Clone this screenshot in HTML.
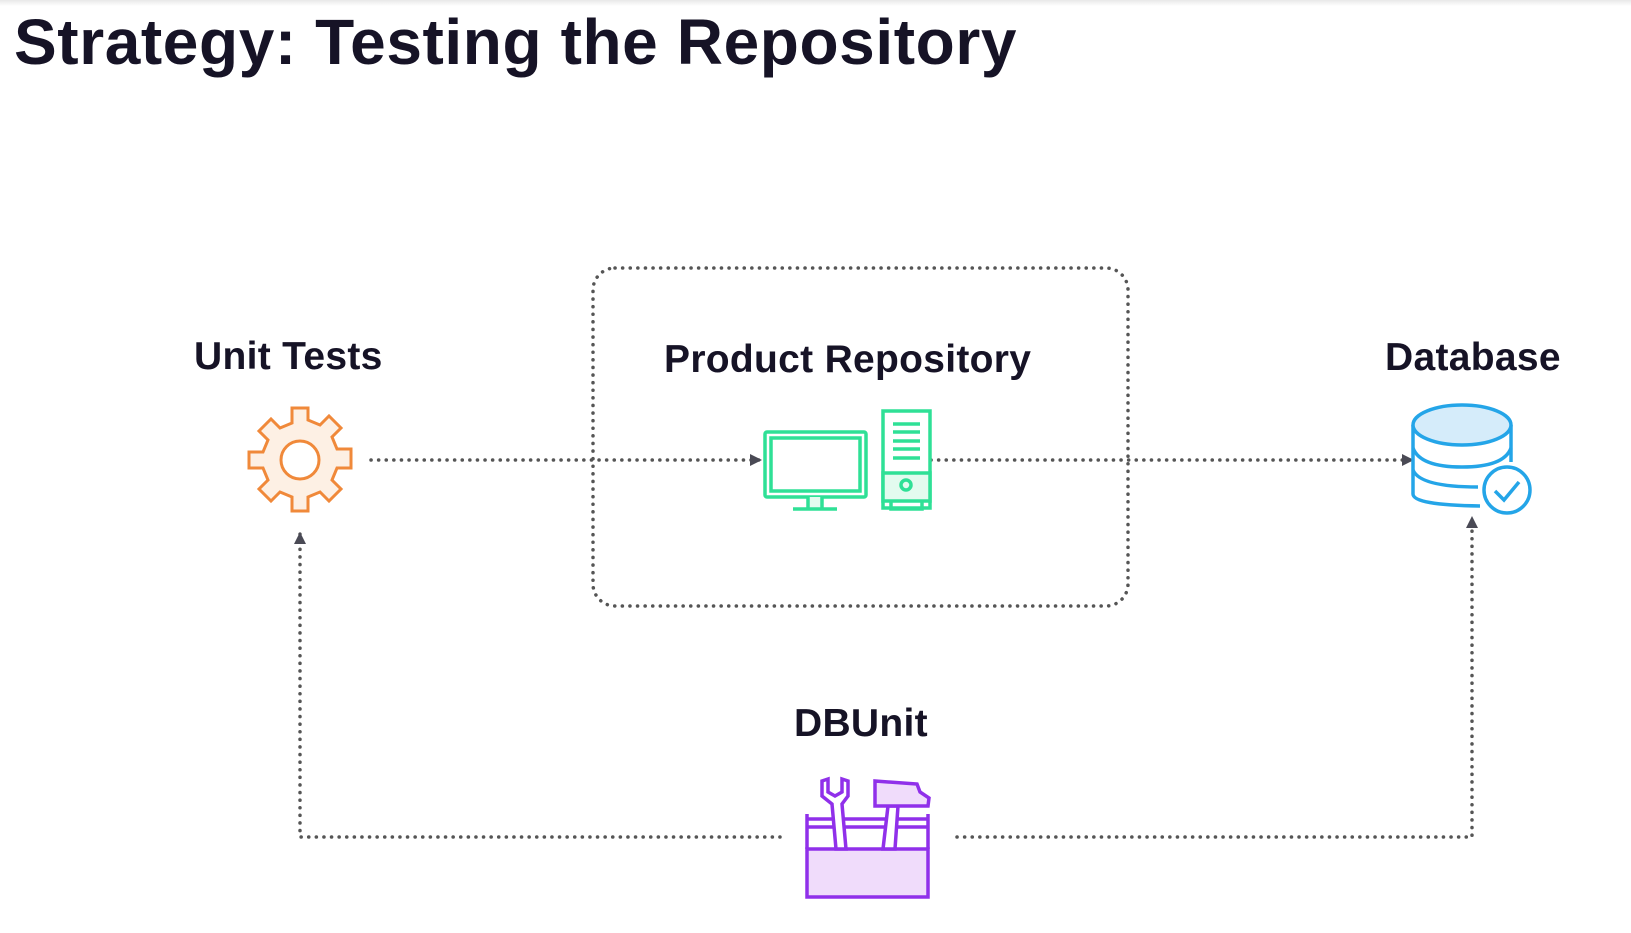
<!DOCTYPE html>
<html><head><meta charset="utf-8"><style>
html,body{margin:0;padding:0;background:#fff;}
body{width:1631px;height:933px;position:relative;overflow:hidden;font-family:"Liberation Sans",sans-serif;}
.t{position:absolute;font-weight:bold;color:#161326;white-space:nowrap;}
</style></head><body>
<div style="position:absolute;left:0;top:0;width:1631px;height:6px;background:linear-gradient(#e8e8e8,#fff)"></div>
<div class="t" style="left:14px;top:5px;font-size:64px;letter-spacing:0.6px;">Strategy: Testing the Repository</div>
<div class="t" style="left:194px;top:335px;font-size:39px;letter-spacing:0.3px;">Unit Tests</div>
<div class="t" style="left:664px;top:338px;font-size:39px;letter-spacing:0.3px;">Product Repository</div>
<div class="t" style="left:1385px;top:336px;font-size:39px;letter-spacing:0.3px;">Database</div>
<div class="t" style="left:794px;top:702px;font-size:39px;letter-spacing:0.3px;">DBUnit</div>
<svg width="1631" height="933" style="position:absolute;left:0;top:0">
<defs><marker id="a" markerWidth="13" markerHeight="13" refX="10" refY="6" orient="auto" markerUnits="userSpaceOnUse"><path d="M0,0L12,6L0,12Z" fill="#4a4a55"/></marker></defs>
<g fill="none" stroke="#555" stroke-width="3.5" stroke-linecap="round" stroke-dasharray="0.1 7.5">
<rect x="593" y="268" width="535" height="338" rx="22"/>
<path d="M371 460H760" marker-end="url(#a)"/>
<path d="M931 460H1412" marker-end="url(#a)"/>
<path d="M780 837H300V534" marker-end="url(#a)"/>
<path d="M957 837H1472V518" marker-end="url(#a)"/>
</g>
<g transform="translate(300,460)" stroke="#f0893a" stroke-width="3">
<path d="M-8,-52H8V-40L20,-35L29,-44L41,-32L32,-23L37,-11H51V8H37L32,20L41,29L29,41L20,32L8,37V51H-8V37L-20,32L-29,41L-41,29L-32,20L-37,8H-51V-8H-37L-32,-20L-41,-29L-29,-41L-20,-32L-8,-37Z" fill="#fdf0e4"/>
<circle r="19" fill="#fff"/>
</g>
<g fill="none" stroke="#2fe096" stroke-width="3.5">
<rect x="765" y="432" width="101" height="65" rx="2"/>
<rect x="771" y="438" width="89" height="53"/>
<rect x="808" y="497" width="14" height="11" fill="#e3fbef" stroke="none"/>
<path d="M808 497V508M822 497V508" />
<path d="M793 509H837"/>
<rect x="883" y="411" width="47" height="97" fill="#fff"/>
<rect x="883" y="473" width="47" height="28" fill="#e3fbef"/>
<path d="M891 501V509H922V501"/>
<path d="M893 424H920M893 432H920M893 441H920M893 449H920M893 458H920"/>
<circle cx="906" cy="485" r="5"/>
</g>
<g fill="none" stroke="#24a5e8" stroke-width="3.5">
<path d="M1413 425V494Q1413 505 1480 506"/>
<path d="M1511 425V462"/>
<ellipse cx="1462" cy="425" rx="49" ry="20" fill="#d5ecfa"/>
<path d="M1413 448Q1420 467 1462 467Q1504 467 1511 448"/>
<path d="M1413 470Q1420 487 1478 487"/>
<circle cx="1507" cy="490" r="23" fill="#fff"/>
<path d="M1495 491L1504 500L1519 482"/>
</g>
<g stroke="#9030ea" stroke-width="3.5" fill="#f0dcfb">
<rect x="807" y="849" width="121" height="48"/>
<path d="M807 849V814M928 849V814" fill="none"/>
<path d="M807 819H928M807 827H928" fill="none"/>
<path d="M836 849L832 804L822 796V781L828 779V792L835 796L842 792V779L848 781V796L842 804L846 849Z" fill="#fff"/>
<path d="M883 849L888 806H898L895 849Z" fill="#fff"/>
<path d="M875 781L917 784L920 792L929 798L928 806L875 806Z"/>
</g>
</svg>
</body></html>
